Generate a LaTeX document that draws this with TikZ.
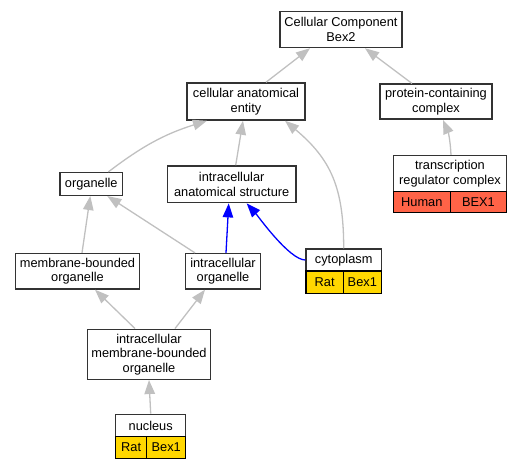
\documentclass[tikz,border=0pt]{standalone}
\usepackage{fontspec}
\setmainfont{Liberation Sans}
\usetikzlibrary{arrows.meta}
\definecolor{edgegray}{HTML}{C0C0C0}
\definecolor{ratgold}{HTML}{FFD700}
\definecolor{humanred}{HTML}{FF6347}
\tikzset{
  term/.style={draw=black!80, line width=1.5pt, fill=white, align=center, inner sep=0pt,
    font=\fontsize{12.8}{14.5}\selectfont},
  cell/.style={term, draw=black},
  link/.style={draw=edgegray, line width=1.3pt, -{Triangle[length=14pt,width=10.5pt]}},
  hilite/.style={link, draw=blue}
}
\begin{document}
\begin{tikzpicture}[x=1pt,y=1pt]
\useasboundingbox (0,0) rectangle (523,-469);
% terms
\node[term, minimum width=122pt, minimum height=36pt] (cc) at (341,-29.5) {Cellular Component\\Bex2};
\node[term, minimum width=118pt, minimum height=37pt] (cae) at (246,-101.5) {cellular anatomical\\entity};
\node[term, minimum width=112pt, minimum height=35pt] (pcc) at (436,-101.7) {protein-containing\\complex};
\node[term, minimum width=113.4pt, minimum height=36pt] (trc) at (450,-173.7) {transcription\\regulator complex};
\node[cell, fill=humanred, minimum width=57pt, minimum height=21pt] (trcSp) at (421.8,-202.2) {Human};
\node[cell, fill=humanred, minimum width=56.4pt, minimum height=21pt] (trcGene) at (478.5,-202.2) {BEX1};
\node[term, minimum width=62.7pt, minimum height=22.6pt] (org) at (91.3,-184) {organelle};
\node[term, minimum width=128.7pt, minimum height=36.7pt] (ias) at (231.7,-184.3) {intracellular\\anatomical structure};
\node[term, minimum width=123.6pt, minimum height=35.3pt] (mbo) at (77.5,-271.3) {membrane-bounded\\organelle};
\node[term, minimum width=75.4pt, minimum height=35.3pt] (io) at (223,-271.3) {intracellular\\organelle};
\node[term, minimum width=75.3pt, minimum height=22pt] (cyto) at (343.7,-260) {cytoplasm};
\node[cell, fill=ratgold, minimum width=37.3pt, minimum height=22.3pt] (cytoSp) at (324.7,-282.2) {Rat};
\node[cell, fill=ratgold, minimum width=38pt, minimum height=22.3pt] (cytoGene) at (362.3,-282.2) {Bex1};
\node[term, minimum width=123.4pt, minimum height=50pt] (imbo) at (149,-354.3) {intracellular\\membrane-bounded\\organelle};
\node[term, minimum width=70pt, minimum height=22.4pt] (nuc) at (150.7,-425.5) {nucleus};
\node[cell, fill=ratgold, minimum width=31pt, minimum height=21.6pt] (nucSp) at (131.2,-447.5) {Rat};
\node[cell, fill=ratgold, minimum width=39pt, minimum height=21.6pt] (nucGene) at (166.2,-447.5) {Bex1};
% links
\draw[link] ([xshift=20pt]cae.north) -- ([xshift=-31pt]cc.south);
\draw[link] ([xshift=-24pt]pcc.north) -- ([xshift=24pt]cc.south);
\draw[link] ([xshift=1pt]trc.north) to[bend right=10] ([xshift=7pt]pcc.south);
\draw[link] ([xshift=17pt]org.north) to[bend left=10] ([xshift=-39pt]cae.south);
\draw[link] ([xshift=4pt]ias.north) -- ([xshift=-3pt]cae.south);
\draw[link] (cyto.north) to[out=90, in=-40, looseness=1.1] ([xshift=39pt]cae.south);
\draw[link] ([xshift=4.5pt]mbo.north) -- ([xshift=-1pt]org.south);
\draw[link] ([xshift=-28pt]io.north) -- ([xshift=16pt]org.south);
\draw[hilite] ([xshift=3pt]io.north) -- ([xshift=-3pt]ias.south);
\draw[hilite] (cyto.west) to[out=180, in=-48, looseness=0.5] ([xshift=15pt]ias.south);
\draw[link] ([xshift=-14pt]imbo.north) -- ([xshift=17.5pt]mbo.south);
\draw[link] ([xshift=26pt]imbo.north) -- ([xshift=-18pt]io.south);
\draw[link] (nuc.north) -- (imbo.south);
\end{tikzpicture}
\end{document}
